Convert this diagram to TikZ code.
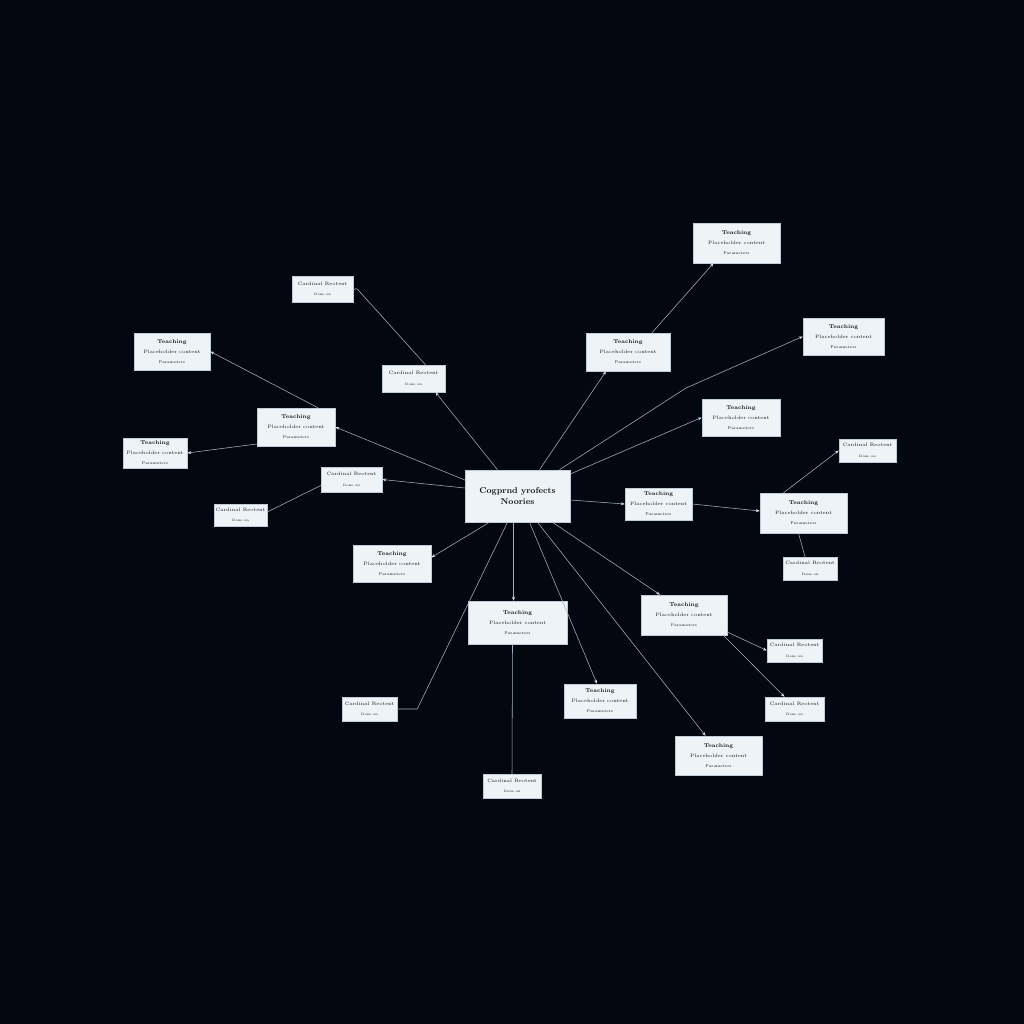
\documentclass[tikz,border=0pt]{standalone}
\usetikzlibrary{arrows.meta}
\definecolor{bgc}{RGB}{4,7,15}
\definecolor{boxfill}{RGB}{238,243,247}
\definecolor{boxline}{RGB}{190,204,216}
\definecolor{linec}{RGB}{160,176,192}
\definecolor{tipc}{RGB}{210,224,236}
\definecolor{txtc}{RGB}{18,20,26}
\newcommand{\boxthree}[3]{{\fontsize{5.5}{6.5}\selectfont\bfseries #1}\\[-2pt]{\fontsize{4.8}{5.8}\selectfont #2}\\[-2pt]{\fontsize{3.9}{5}\selectfont #3}}
\newcommand{\boxtwo}[2]{{\fontsize{4.8}{5.6}\selectfont #1}\\[-1.5pt]{\fontsize{3.4}{4.4}\selectfont #2}}
\tikzset{
  box/.style={draw=boxline, fill=boxfill, line width=0.5pt, inner sep=0pt, align=center, text=txtc},
  conn/.style={draw=linec, line width=0.55pt},
  arr/.style={conn, -{Stealth[length=4pt,width=3pt,color=tipc,fill=tipc]}}
}
\begin{document}
\begin{tikzpicture}[x=1pt,y=-1pt]
\fill[bgc] (0,0) rectangle (1024,1024);
\useasboundingbox (0,0) rectangle (1024,1024);

% central
\node[box, minimum width=105pt, minimum height=52pt, font=\fontsize{8.5}{11}\selectfont\bfseries] (C) at (517.5,496) {Cogprnd yrofects\\Noories};

% three-line boxes
\node[box, minimum width=87pt, minimum height=40pt] (T1) at (736.5,243) {\boxthree{Teaching}{Placeholder content}{Parameters}};
\node[box, minimum width=84pt, minimum height=38pt] (A) at (628,352) {\boxthree{Teaching}{Placeholder content}{Parameters}};
\node[box, minimum width=81pt, minimum height=37pt] (R1) at (843.5,336.5) {\boxthree{Teaching}{Placeholder content}{Parameters}};
\node[box, minimum width=78pt, minimum height=37pt] (R2) at (741,417.5) {\boxthree{Teaching}{Placeholder content}{Parameters}};
\node[box, minimum width=67pt, minimum height=32pt] (M1) at (658.5,504) {\boxthree{Teaching}{Placeholder content}{Parameters}};
\node[box, minimum width=87pt, minimum height=40pt] (R3) at (803.5,513) {\boxthree{Teaching}{Placeholder content}{Parameters}};
\node[box, minimum width=86pt, minimum height=40pt] (D1) at (684,615) {\boxthree{Teaching}{Placeholder content}{Parameters}};
\node[box, minimum width=87pt, minimum height=39pt] (D2) at (718.5,755.5) {\boxthree{Teaching}{Placeholder content}{Parameters}};
\node[box, minimum width=72pt, minimum height=34pt] (D3) at (600,701) {\boxthree{Teaching}{Placeholder content}{Parameters}};
\node[box, minimum width=99pt, minimum height=43pt] (B1) at (517.5,622.5) {\boxthree{Teaching}{Placeholder content}{Parameters}};
\node[box, minimum width=78pt, minimum height=37pt] (L1) at (392,563.5) {\boxthree{Teaching}{Placeholder content}{Parameters}};
\node[box, minimum width=78pt, minimum height=38pt] (L2) at (296,427) {\boxthree{Teaching}{Placeholder content}{Parameters}};
\node[box, minimum width=64pt, minimum height=30pt] (L3) at (155,453) {\boxthree{Teaching}{Placeholder content}{Parameters}};
\node[box, minimum width=76pt, minimum height=37pt] (L4) at (172,351.5) {\boxthree{Teaching}{Placeholder content}{Parameters}};

% two-line boxes
\node[box, minimum width=57pt, minimum height=23pt] (S1) at (867.5,450.5) {\boxtwo{Cardinal Reotent}{Done on}};
\node[box, minimum width=54pt, minimum height=23pt] (S2) at (810,568.5) {\boxtwo{Cardinal Reotent}{Done on}};
\node[box, minimum width=55pt, minimum height=23pt] (S3) at (794.5,650.5) {\boxtwo{Cardinal Reotent}{Done on}};
\node[box, minimum width=59pt, minimum height=24pt] (S4) at (794.5,709) {\boxtwo{Cardinal Reotent}{Done on}};
\node[box, minimum width=58pt, minimum height=24pt] (S5) at (512,786) {\boxtwo{Cardinal Reotent}{Done on}};
\node[box, minimum width=55pt, minimum height=24pt] (S6) at (369.5,709) {\boxtwo{Cardinal Reotent}{Done on}};
\node[box, minimum width=61pt, minimum height=25pt] (S7) at (351.5,479.5) {\boxtwo{Cardinal Reotent}{Done on}};
\node[box, minimum width=53pt, minimum height=22pt] (S8) at (240.5,515) {\boxtwo{Cardinal Reotent}{Done on}};
\node[box, minimum width=61pt, minimum height=26pt] (S9) at (322.5,289) {\boxtwo{Cardinal Reotent}{Done on}};
\node[box, minimum width=63pt, minimum height=27pt] (S10) at (413.5,378.5) {\boxtwo{Cardinal Reotent}{Done on}};

% connectors
\coordinate (b1) at (686,388);
\draw[arr] ([xshift=22pt]C.north) -- ([xshift=-22pt]A.south);
\draw[arr] ([xshift=24pt]A.north) -- ([xshift=-23pt]T1.south);
\draw[arr] ([xshift=42pt]C.north) -- (b1) -- (R1.west);
\draw[arr] ([yshift=22pt]C.east) -- (R2.west);
\draw[arr] ([xshift=-20pt]C.north) -- ([xshift=22pt]S10.south);
\draw[conn] ([xshift=12pt]S10.north) -- ([xshift=4pt]S9.east) -- (S9.east);
\draw[arr] ([yshift=16pt]C.west) -- (L2.east);
\draw[arr] ([xshift=22pt]L2.north) -- (L4.east);
\draw[arr] ([yshift=-17pt]L2.west) -- (L3.east);
\draw[arr] ([yshift=8pt]C.west) -- (S7.east);
\draw[conn] ([yshift=-6pt]S7.west) -- ([yshift=3pt]S8.east);
\draw[arr] ([xshift=-28pt]C.south) -- ([yshift=6pt]L1.east);
\draw[conn] ([xshift=-10pt]C.south) -- ([xshift=20pt]S6.east) -- (S6.east);
\draw[arr] ([xshift=-4pt]C.south) -- ([xshift=-4pt]B1.north);
\draw[conn] ([xshift=-5pt]B1.south) -- (S5.north);
\draw[arr] ([xshift=12pt]C.south) -- ([xshift=-3pt]D3.north);
\draw[arr] ([xshift=20pt]C.south) -- ([xshift=-13pt]D2.north);
\draw[arr] ([xshift=35pt]C.south) -- ([xshift=-24pt]D1.north);
\draw[arr] ([yshift=-17pt]D1.east) -- (S3.west);
\draw[arr] ([xshift=-4pt]D1.south east) -- ([xshift=-10pt]S4.north);
\draw[arr] ([yshift=-4pt]C.east) -- (M1.west);
\draw[arr] (M1.east) -- ([yshift=2pt]R3.west);
\draw[arr] ([xshift=-20pt]R3.north) -- (S1.west);
\draw[conn] ([xshift=-5pt]R3.south) -- ([xshift=-5pt]S2.north);
\end{tikzpicture}
\end{document}
